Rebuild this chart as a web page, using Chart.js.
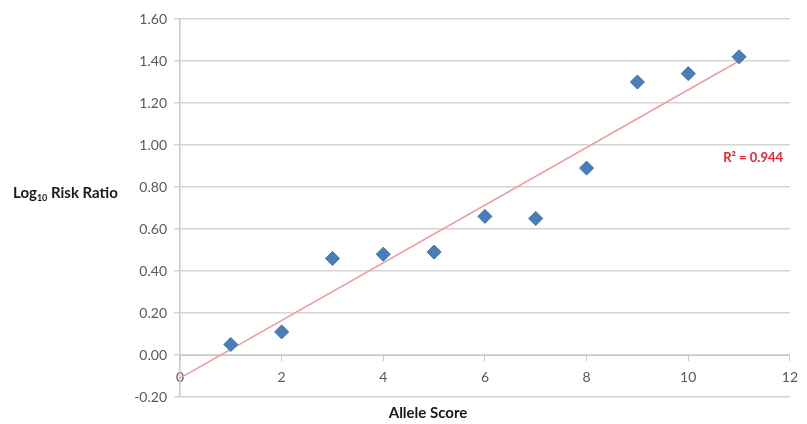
<!DOCTYPE html>
<html>
<head>
<meta charset="utf-8">
<script src="https://cdn.jsdelivr.net/npm/chart.js@4/dist/chart.umd.min.js"></script>
<style>
html,body{margin:0;padding:0;background:#fff;}
#wrap{width:807px;height:424px;position:relative;}
</style>
</head>
<body>
<div id="wrap"><canvas id="c" width="807" height="424"></canvas></div>
<script>
// Data
const alleleScores = [1, 2, 3, 4, 5, 6, 7, 8, 9, 10, 11];
const logRiskRatio = [0.05, 0.11, 0.46, 0.48, 0.49, 0.66, 0.65, 0.89, 1.30, 1.34, 1.42];
const trendX = [0, 11];
const trendY = [-0.11, 1.40];
const rSquaredText = 'R² = 0.944';
const xTitle = 'Allele Score';
const yTitleParts = ['Log', '10', ' Risk Ratio'];

const FONT = 'Lato, "Open Sans", "Liberation Sans", sans-serif';

const annotations = {
  id: 'annotations',
  afterDraw(chart) {
    const ctx = chart.ctx;
    ctx.save();
    // Y title (horizontal, with subscript)
    ctx.fillStyle = '#1a1a1a';
    ctx.textBaseline = 'alphabetic';
    ctx.textAlign = 'left';
    let x = 13;
    const base = 198;
    ctx.font = 'bold 15px ' + FONT;
    ctx.fillText(yTitleParts[0], x, base);
    x += ctx.measureText(yTitleParts[0]).width;
    ctx.font = 'bold 9px ' + FONT;
    ctx.fillText(yTitleParts[1], x, base + 3);
    x += ctx.measureText(yTitleParts[1]).width;
    ctx.font = 'bold 15px ' + FONT;
    ctx.fillText(yTitleParts[2], x, base);
    // X title
    ctx.font = 'bold 15px ' + FONT;
    ctx.textAlign = 'center';
    ctx.textBaseline = 'middle';
    ctx.fillText(xTitle, 428, 413);
    // R squared
    ctx.font = 'bold 13px ' + FONT;
    ctx.fillStyle = '#e8272d';
    ctx.textAlign = 'right';
    ctx.fillText(rSquaredText, 783, 158);
    ctx.restore();
  }
};

new Chart(document.getElementById('c'), {
  type: 'scatter',
  data: {
    datasets: [
      {
        label: 'Trend',
        type: 'line',
        data: trendX.map((v, i) => ({x: v, y: trendY[i]})),
        borderColor: '#ef9c9c',
        borderWidth: 1.5,
        pointRadius: 0,
        fill: false,
        order: 2
      },
      {
        label: 'Log10 Risk Ratio',
        data: alleleScores.map((v, i) => ({x: v, y: logRiskRatio[i]})),
        pointStyle: 'rectRot',
        pointRadius: 7,
        pointHoverRadius: 7,
        backgroundColor: '#4a7ebb',
        borderColor: '#3c6ea8',
        borderWidth: 1,
        order: 1
      }
    ]
  },
  options: {
    responsive: false,
    animation: false,
    devicePixelRatio: 1,
    layout: { padding: { left: 0, right: 12, top: 19, bottom: 27 } },
    plugins: { legend: { display: false }, tooltip: { enabled: false } },
    scales: {
      x: {
        type: 'linear',
        position: { y: 0 },
        min: 0, max: 12,
        afterFit(s) { s.height = 0; },
        ticks: { stepSize: 2, color: '#595959', font: { family: FONT, size: 14 }, padding: 9, maxRotation: 0 },
        grid: { drawOnChartArea: false, drawTicks: true, tickLength: 5, color: '#c8c8c8' },
        border: { display: true, color: '#c8c8c8' }
      },
      y: {
        type: 'linear',
        min: -0.2, max: 1.6,
        afterFit(s) { s.width = 180; },
        ticks: {
          stepSize: 0.2,
          color: '#595959',
          font: { family: FONT, size: 14 },
          padding: 7,
          callback: (v) => (Math.abs(v) < 1e-9 ? 0 : v).toFixed(2)
        },
        grid: { color: '#d4d4d4', lineWidth: 1.5, tickLength: 6 },
        border: { display: true, color: '#c8c8c8', width: 1.5 }
      }
    }
  },
  plugins: [annotations]
});
</script>
</body>
</html>
